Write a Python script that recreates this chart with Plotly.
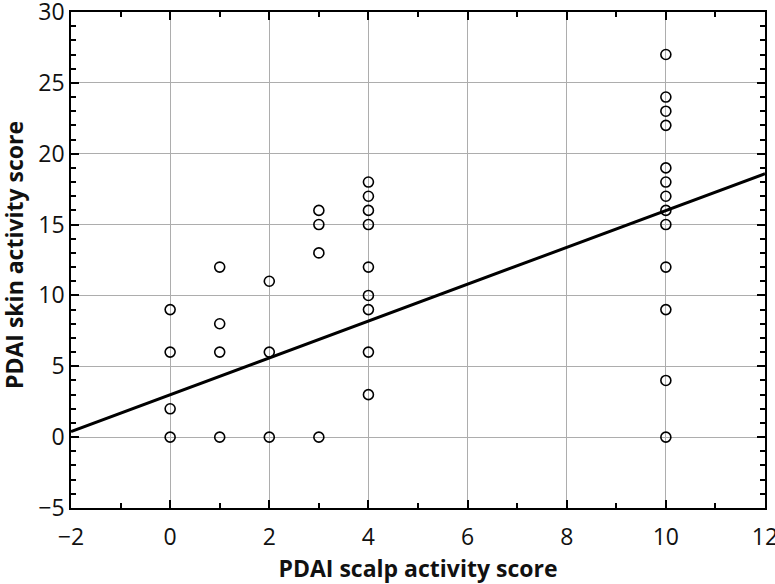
import plotly.graph_objects as go

# scalp score (x) and skin score (y) for each patient
scalp = [0, 0, 0, 0,
         1, 1, 1, 1,
         2, 2, 2,
         3, 3, 3, 3,
         4, 4, 4, 4, 4, 4, 4, 4, 4,
         10, 10, 10, 10, 10, 10, 10, 10, 10, 10, 10, 10, 10]
skin = [9, 6, 2, 0,
        12, 8, 6, 0,
        11, 6, 0,
        16, 15, 13, 0,
        18, 17, 16, 15, 12, 10, 9, 6, 3,
        27, 24, 23, 22, 19, 18, 17, 16, 15, 12, 9, 4, 0]

# regression line as drawn in the figure
fit_intercept = 2.99
fit_slope = 1.30
line_x = [-2, 12]
line_y = [fit_intercept + fit_slope * v for v in line_x]

font = "Open Sans"

fig = go.Figure()
fig.add_trace(go.Scatter(x=line_x, y=line_y, mode='lines',
                         line=dict(color='black', width=3), showlegend=False))
fig.add_trace(go.Scatter(x=scalp, y=skin, mode='markers', showlegend=False,
                         marker=dict(symbol='circle-open', size=10, color='black',
                                     line=dict(width=1.6, color='black'))))

axis_common = dict(showline=True, linecolor='black', linewidth=1.5, mirror='ticks',
                   ticks='inside', ticklen=8, tickwidth=1.5, tickcolor='black',
                   showgrid=True, gridcolor='#adadad', gridwidth=1.2, zeroline=False,
                   ticklabeloverflow='allow', automargin=False,
                   tickfont=dict(family=font, size=23, color='#111'))

fig.update_xaxes(range=[-2, 12], dtick=2, tick0=0, ticklabelstandoff=8,
                 minor=dict(ticks='inside', ticklen=5, dtick=1, tickcolor='black', showgrid=False),
                 title=dict(text='<b>PDAI scalp activity score</b>', font=dict(family=font, size=23, color='#111'),
                            standoff=0),
                 **axis_common)
fig.update_yaxes(range=[-5, 30], dtick=5, tick0=0,
                 minor=dict(ticks='inside', ticklen=5, dtick=1, tickcolor='black', showgrid=False),
                 **axis_common)

# y title placed as an annotation so it sits close to the left edge
fig.add_annotation(text='<b>PDAI skin activity score</b>', textangle=-90,
                   xref='paper', yref='paper', x=0, y=0.5, xanchor='center', yanchor='middle',
                   xshift=-57, yshift=5, showarrow=False,
                   font=dict(family=font, size=23, color='#111'))

fig.update_layout(width=775, height=584, paper_bgcolor='white', plot_bgcolor='white',
                  margin=dict(l=71, r=10, t=12, b=76), font=dict(family=font))

# drop the default body margin so the figure fills the window exactly
fig.write_html("out.html", config={'displayModeBar': False},
               post_script="document.body.style.margin='0';")
